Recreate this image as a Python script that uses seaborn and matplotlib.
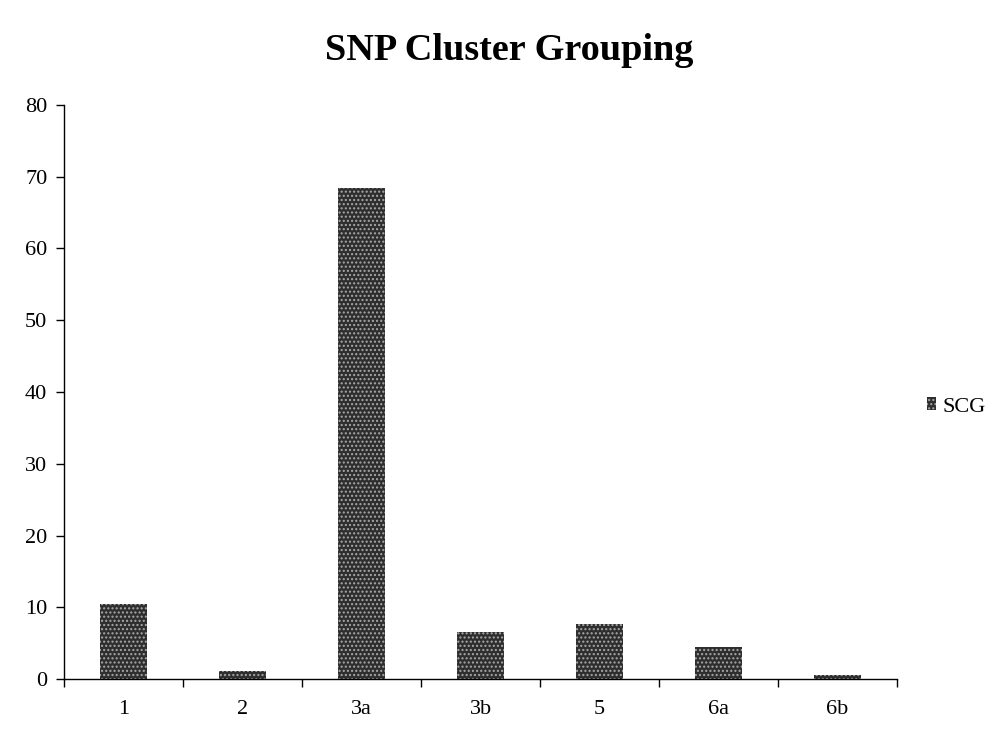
import matplotlib
matplotlib.use("Agg")
import matplotlib.pyplot as plt
import seaborn as sns
import numpy as np

# --- Data ---
clusters = ["1", "2", "3a", "3b", "5", "6a", "6b"]
scg_values = [10.4, 1.1, 68.4, 6.5, 7.6, 4.4, 0.5]
series_name = "SCG"

sns.set_style("white")
plt.rcParams['font.family'] = ['Liberation Serif', 'DejaVu Serif']
plt.rcParams['hatch.linewidth'] = 1.0
plt.rcParams['text.color'] = "black"
plt.rcParams['xtick.color'] = "black"
plt.rcParams['ytick.color'] = "black"

fig = plt.figure(figsize=(9.97, 7.31), dpi=100)
ax = fig.add_axes([0.0642, 0.0711, 0.8355, 0.7853])

sns.barplot(x=clusters, y=scg_values, color="#2e2e2e", width=0.4,
            label=series_name, ax=ax, saturation=1)
for p in ax.patches:
    p.set_hatch("....")
    p.set_edgecolor("#a8a8a8")
    p.set_linewidth(0)

ax.set_ylim(0, 80)
ax.set_yticks(np.arange(0, 81, 10))
ax.set_xlim(-0.5, len(clusters) - 0.5)
ax.set_xticks(np.arange(-0.5, len(clusters), 1), minor=True)
ax.tick_params(axis="x", which="major", length=0, labelsize=16, pad=15)
ax.tick_params(axis="x", which="minor", length=6, width=1, direction="out", bottom=True)
ax.tick_params(axis="y", length=6, width=1, direction="out", left=True, labelsize=16, pad=6)
for s in ["top", "right"]:
    ax.spines[s].set_visible(False)
for s in ["left", "bottom"]:
    ax.spines[s].set_color("black")
    ax.spines[s].set_linewidth(1)
ax.set_xlabel("")
ax.set_ylabel("")

fig.text(0.511, 0.918, "SNP Cluster Grouping", fontsize=27.5, fontweight="bold",
         ha="center", va="baseline")
ax.legend(loc="center left", bbox_to_anchor=(1.017, 0.474), frameon=False,
          fontsize=16, handlelength=0.4, handleheight=0.5, handletextpad=0.3,
          borderpad=0.2)

plt.savefig("out.png", dpi=100)
plt.close()
